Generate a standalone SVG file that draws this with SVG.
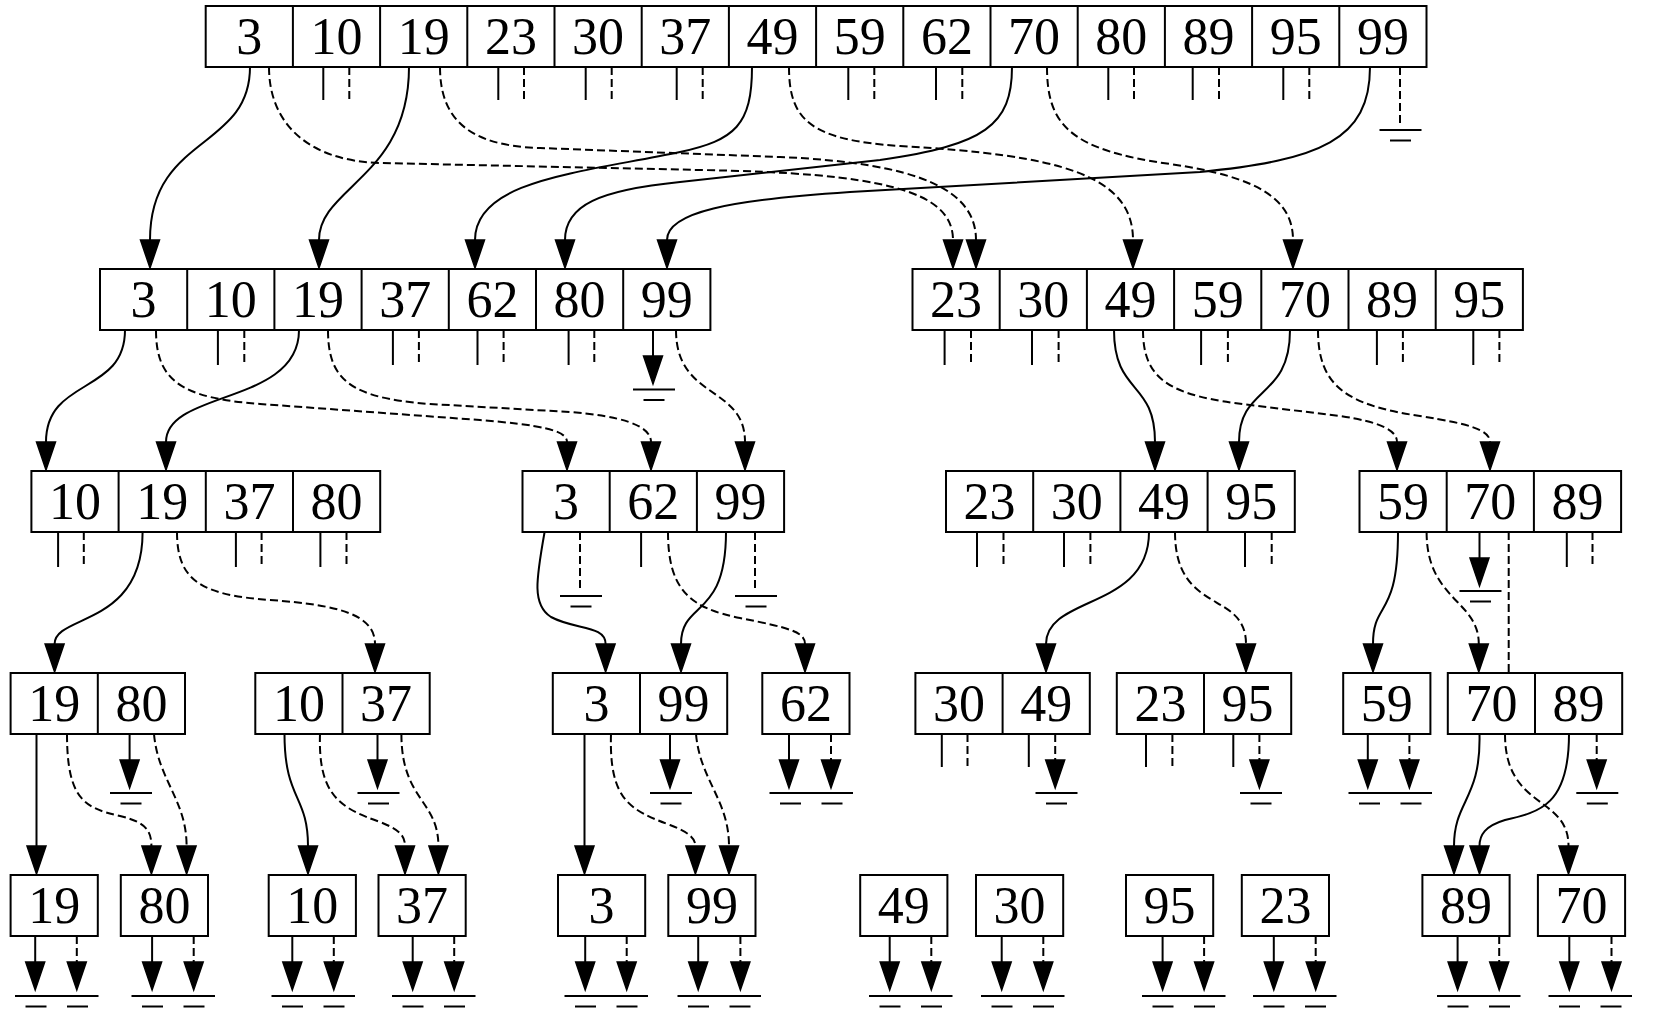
<svg xmlns="http://www.w3.org/2000/svg" width="1654" height="1020" viewBox="0 0 1654 1020">
<style>
.box{fill:#fff;stroke:#000;stroke-width:2}
.dv{stroke:#000;stroke-width:2}
.t{font-family:"Liberation Serif","Times New Roman",serif;font-size:52px;text-anchor:middle;fill:#000}
.s{fill:none;stroke:#000;stroke-width:2}
.d{fill:none;stroke:#000;stroke-width:2;stroke-dasharray:8,4}
.a{marker-end:url(#ah)}
.gl{stroke:#000;stroke-width:2}
</style>
<defs>
<marker id="ah" markerUnits="userSpaceOnUse" markerWidth="32" markerHeight="24" viewBox="0 -12 32 24" refX="0" refY="0" orient="auto" overflow="visible">
<path d="M0,-9.5 L28,0 L0,9.5 z" fill="#000" stroke="#000" stroke-width="1.5"/>
</marker>
<g id="gnd"><line class="gl" x1="-21" y1="0" x2="21" y2="0"/><line class="gl" x1="-10.5" y1="10.5" x2="10.5" y2="10.5"/></g>
</defs>
<rect width="1654" height="1020" fill="#fff"/>

<g id="connectors">
<!-- row 1 stubs -->
<g id="stubs1">
<path class="s" d="M323.3,67V100M498.3,67V100M585.7,67V100M676.7,67V100M848.3,67V100M936,67V100M1108.3,67V100M1192.7,67V100M1283.3,67V100"/>
<path class="d" d="M349.3,67V100M524,67V100M611.7,67V100M702.7,67V100M874.3,67V100M962.3,67V100M1134,67V100M1219,67V100M1309.3,67V100"/>
</g>
<!-- row 1 edges -->
<path class="s a" d="M250,67 C250,150 150,135 150,240"/>
<path class="d a" d="M269,67 C269,125 310,161 380,163 L700,170 C880,173 953,190 953,240"/>
<path class="s a" d="M409,67 C409,177 319,187 319,240"/>
<path class="d a" d="M440,67 C440,120 470,146 540,148 L780,157 C920,163 976,190 976,240"/>
<path class="s a" d="M752,67 C752,125 735,140 680,152 C580,173 475,180 475,240"/>
<path class="d a" d="M789,67 C789,120 810,140 900,146 C1060,155 1133,175 1133,240"/>
<path class="s a" d="M1012,67 C1012,125 985,145 880,160 L680,182 C600,190 565,205 565,240"/>
<path class="d a" d="M1047,67 C1047,125 1070,150 1170,164 C1260,177 1293,200 1293,240"/>
<path class="s a" d="M1370,67 C1370,140 1320,160 1200,172 L850,192 C730,200 667,212 667,240"/>
<path class="d" d="M1400,67 L1400,126"/>

<!-- row 2 stubs -->
<g id="stubs2">
<path class="s" d="M217.9,330V365M392.9,330V365M477.5,330V365M568.6,330V365M944.6,330V365M1032,330V365M1201.1,330V365M1376.9,330V365M1473.3,330V365"/>
<path class="d" d="M244.3,330V365M418.9,330V365M503.6,330V365M594.3,330V365M971,330V365M1058.6,330V365M1227.9,330V365M1402.9,330V365M1499.4,330V365"/>
</g>
<!-- row 2 edges -->
<path class="s a" d="M125,330 C125,395 46,377 46,442"/>
<path class="d a" d="M156,330 C156,380 180,398 260,404 L480,420 C540,425 567,430 567,442"/>
<path class="s a" d="M299,330 C299,405 166,390 166,442"/>
<path class="d a" d="M328,330 C328,380 350,398 430,404 L570,412 C620,416 651,425 651,442"/>
<path class="s a" d="M653,330 L653,356"/>
<path class="d a" d="M676,330 C676,400 745,385 745,442"/>
<path class="s a" d="M1114,330 C1114,395 1155,380 1155,442"/>
<path class="d a" d="M1143,330 C1143,380 1170,396 1250,405 L1340,416 C1380,422 1397,430 1397,442"/>
<path class="s a" d="M1290,330 C1290,400 1239,385 1239,442"/>
<path class="d a" d="M1318,330 C1318,385 1345,405 1420,416 C1470,424 1490,430 1490,442"/>

<!-- row 3 stubs -->
<g id="stubs3">
<path class="s" d="M58.1,532V567M235.9,532V567M320.4,532V567M641.1,532V567M977,532V567M1064,532V567M1245,532V567M1566.8,532V567"/>
<path class="d" d="M83.8,532V567M261.6,532V567M346.5,532V567M1003.5,532V567M1090.4,532V567M1271.7,532V567M1592.5,532V567"/>
</g>
<!-- row 3 edges -->
<path class="s a" d="M142.6,532 C142.6,627 54.6,614 54.6,644"/>
<path class="d a" d="M177,532 C177,580 200,595 270,600 C340,605 375,615 375,644"/>
<path class="s a" d="M544.6,532 C536,580 532,605 551,617 C575,630 605.6,625 605.6,644"/>
<path class="d" d="M580,532 L580,592"/>
<path class="d a" d="M668,532 C668,590 690,608 740,618 C790,628 805,632 805,644"/>
<path class="s a" d="M726,532 C726,620 681,600 681,644"/>
<path class="d" d="M755,532 L755,592"/>
<path class="s a" d="M1149,532 C1149,610 1046,595 1046,644"/>
<path class="d a" d="M1175,532 C1175,615 1246,590 1246,644"/>
<path class="s a" d="M1398,532 C1398,620 1373,600 1373,644"/>
<path class="d a" d="M1426.6,532 C1426.6,600 1478.8,600 1478.8,644"/>
<path class="s a" d="M1479.5,532 L1479.5,558"/>
<path class="d" d="M1508.7,532 L1508.7,673"/>

<!-- row 4 stubs -->
<g id="stubs4">
<path class="s" d="M941.8,734V767M1028.8,734V767M1146,734V767M1233.3,734V767"/>
<path class="d" d="M967.5,734V767M1172.4,734V767"/>
</g>
<!-- row 4 edges -->
<path class="s a" d="M36.5,734 L36.5,846"/>
<path class="d a" d="M67,734 C67,800 85,808 120,816 C145,822 151.4,830 151.4,846"/>
<path class="s a" d="M129.6,734 L129.6,760"/>
<path class="d a" d="M154,734 C158,780 186.6,800 186.6,846"/>
<path class="s a" d="M284.5,734 C284.5,800 308,795 308,846"/>
<path class="d a" d="M320,734 C318,795 340,808 380,822 C398,829 405,835 405,846"/>
<path class="s a" d="M377.5,734 L377.5,760"/>
<path class="d a" d="M401.4,734 C401.4,800 438.4,800 438.4,846"/>
<path class="s a" d="M584.5,734 L584.5,846"/>
<path class="d a" d="M611,734 C609,800 630,810 670,825 C688,832 695.4,838 695.4,846"/>
<path class="s a" d="M670,734 L670,760"/>
<path class="d a" d="M696,734 C700,780 729,800 729,846"/>
<path class="s a" d="M789,734 L789,760"/>
<path class="d a" d="M831,734 L831,760"/>
<path class="d a" d="M1055.2,734 L1055.2,760"/>
<path class="d a" d="M1259.4,734 L1259.4,760"/>
<path class="s a" d="M1367.8,734 L1367.8,760"/>
<path class="d a" d="M1409.4,734 L1409.4,760"/>
<path class="s a" d="M1479.5,734 C1481,800 1454,800 1454,846"/>
<path class="d a" d="M1505,734 C1505,810 1568.5,795 1568.5,846"/>
<path class="s a" d="M1569,734 C1569,805 1540,812 1505,820 C1485,826 1479.5,835 1479.5,846"/>
<path class="d a" d="M1596.7,734 L1596.7,760"/>

<!-- row 5 edges -->
<path class="s a" d="M35.2,936V962"/><path class="s a" d="M152.1,936V962"/><path class="s a" d="M292.3,936V962"/><path class="s a" d="M412.7,936V962"/>
<path class="s a" d="M585.2,936V962"/><path class="s a" d="M698.2,936V962"/><path class="s a" d="M889.7,936V962"/><path class="s a" d="M1001.7,936V962"/>
<path class="s a" d="M1162.6,936V962"/><path class="s a" d="M1273.8,936V962"/><path class="s a" d="M1457.6,936V962"/><path class="s a" d="M1569.3,936V962"/>
<path class="d a" d="M76.8,936V962"/><path class="d a" d="M193.7,936V962"/><path class="d a" d="M333.8,936V962"/><path class="d a" d="M454.2,936V962"/>
<path class="d a" d="M626.7,936V962"/><path class="d a" d="M740.4,936V962"/><path class="d a" d="M931.3,936V962"/><path class="d a" d="M1043.3,936V962"/>
<path class="d a" d="M1204.1,936V962"/><path class="d a" d="M1315.7,936V962"/><path class="d a" d="M1499.2,936V962"/><path class="d a" d="M1611.5,936V962"/>
</g>

<g id="grounds">
<use id="g_r1" href="#gnd" x="1400.5" y="130"/>
<use id="g_r2" href="#gnd" x="654" y="389.5"/>
<use id="g_r3a" href="#gnd" x="581" y="596"/>
<use id="g_r3b" href="#gnd" x="756" y="596"/>
<use id="g_r3c" href="#gnd" x="1480.5" y="591"/>
<use href="#gnd" x="131" y="793"/>
<use href="#gnd" x="378.5" y="793"/>
<use href="#gnd" x="671" y="793"/>
<use href="#gnd" x="790.5" y="793"/>
<use href="#gnd" x="832" y="793"/>
<use href="#gnd" x="1056.5" y="793"/>
<use href="#gnd" x="1261" y="793"/>
<use href="#gnd" x="1369.5" y="793"/>
<use href="#gnd" x="1411" y="793"/>
<use href="#gnd" x="1597.3" y="793"/>
<use href="#gnd" x="36" y="996"/><use href="#gnd" x="77.5" y="996"/>
<use href="#gnd" x="152.5" y="996"/><use href="#gnd" x="194" y="996"/>
<use href="#gnd" x="292.5" y="996"/><use href="#gnd" x="334" y="996"/>
<use href="#gnd" x="413" y="996"/><use href="#gnd" x="454.5" y="996"/>
<use href="#gnd" x="585.5" y="996"/><use href="#gnd" x="627" y="996"/>
<use href="#gnd" x="698.5" y="996"/><use href="#gnd" x="740" y="996"/>
<use href="#gnd" x="890" y="996"/><use href="#gnd" x="931.5" y="996"/>
<use href="#gnd" x="1002" y="996"/><use href="#gnd" x="1043.5" y="996"/>
<use href="#gnd" x="1163" y="996"/><use href="#gnd" x="1204.5" y="996"/>
<use href="#gnd" x="1274" y="996"/><use href="#gnd" x="1315.5" y="996"/>
<use href="#gnd" x="1458" y="996"/><use href="#gnd" x="1499.5" y="996"/>
<use href="#gnd" x="1569.5" y="996"/><use href="#gnd" x="1611" y="996"/>
</g>

<!-- row 1 -->
<g id="n_root">
<rect class="box" x="205.7" y="6" width="1220.8" height="61"/>
<path class="dv" d="M292.9,6V67M380.1,6V67M467.3,6V67M554.5,6V67M641.7,6V67M728.9,6V67M816.1,6V67M903.3,6V67M990.5,6V67M1077.7,6V67M1164.9,6V67M1252.1,6V67M1339.3,6V67"/>
<text class="t" y="53.5"><tspan x="249.3">3</tspan><tspan x="336.5">10</tspan><tspan x="423.7">19</tspan><tspan x="510.9">23</tspan><tspan x="598.1">30</tspan><tspan x="685.3">37</tspan><tspan x="772.5">49</tspan><tspan x="859.7">59</tspan><tspan x="946.9">62</tspan><tspan x="1034.1">70</tspan><tspan x="1121.3">80</tspan><tspan x="1208.5">89</tspan><tspan x="1295.7">95</tspan><tspan x="1382.9">99</tspan></text>
</g>
<!-- row 2 -->
<g id="n_L">
<rect class="box" x="100" y="269" width="610.4" height="61"/>
<path class="dv" d="M187.2,269V330M274.4,269V330M361.6,269V330M448.8,269V330M536,269V330M623.2,269V330"/>
<text class="t" y="316.5"><tspan x="143.6">3</tspan><tspan x="230.8">10</tspan><tspan x="318">19</tspan><tspan x="405.2">37</tspan><tspan x="492.4">62</tspan><tspan x="579.6">80</tspan><tspan x="666.8">99</tspan></text>
</g>
<g id="n_R">
<rect class="box" x="912.5" y="269" width="610.4" height="61"/>
<path class="dv" d="M999.7,269V330M1086.9,269V330M1174.1,269V330M1261.3,269V330M1348.5,269V330M1435.7,269V330"/>
<text class="t" y="316.5"><tspan x="956.1">23</tspan><tspan x="1043.3">30</tspan><tspan x="1130.5">49</tspan><tspan x="1217.7">59</tspan><tspan x="1304.9">70</tspan><tspan x="1392.1">89</tspan><tspan x="1479.3">95</tspan></text>
</g>
<!-- row 3 -->
<g id="n_LL">
<rect class="box" x="31.4" y="471" width="348.8" height="61"/>
<path class="dv" d="M118.6,471V532M205.8,471V532M293,471V532"/>
<text class="t" y="518.5"><tspan x="75">10</tspan><tspan x="162.2">19</tspan><tspan x="249.4">37</tspan><tspan x="336.6">80</tspan></text>
</g>
<g id="n_LR">
<rect class="box" x="522.5" y="471" width="261.6" height="61"/>
<path class="dv" d="M609.7,471V532M696.9,471V532"/>
<text class="t" y="518.5"><tspan x="566.1">3</tspan><tspan x="653.3">62</tspan><tspan x="740.5">99</tspan></text>
</g>
<g id="n_RL">
<rect class="box" x="946" y="471" width="348.8" height="61"/>
<path class="dv" d="M1033.2,471V532M1120.4,471V532M1207.6,471V532"/>
<text class="t" y="518.5"><tspan x="989.6">23</tspan><tspan x="1076.8">30</tspan><tspan x="1164">49</tspan><tspan x="1251.2">95</tspan></text>
</g>
<g id="n_RR">
<rect class="box" x="1359.5" y="471" width="261.6" height="61"/>
<path class="dv" d="M1446.7,471V532M1533.9,471V532"/>
<text class="t" y="518.5"><tspan x="1403.1">59</tspan><tspan x="1490.3">70</tspan><tspan x="1577.5">89</tspan></text>
</g>
<!-- row 4 -->
<g id="n_19_80">
<rect class="box" x="10.6" y="673" width="174.4" height="61"/>
<path class="dv" d="M97.8,673V734"/>
<text class="t" y="720.5"><tspan x="54.2">19</tspan><tspan x="141.4">80</tspan></text>
</g>
<g id="n_10_37">
<rect class="box" x="255.3" y="673" width="174.4" height="61"/>
<path class="dv" d="M342.5,673V734"/>
<text class="t" y="720.5"><tspan x="298.9">10</tspan><tspan x="386.1">37</tspan></text>
</g>
<g id="n_3_99">
<rect class="box" x="552.8" y="673" width="174.4" height="61"/>
<path class="dv" d="M640,673V734"/>
<text class="t" y="720.5"><tspan x="596.4">3</tspan><tspan x="683.6">99</tspan></text>
</g>
<g id="n_62">
<rect class="box" x="762.3" y="673" width="87.2" height="61"/>
<text class="t" x="805.9" y="720.5">62</text>
</g>
<g id="n_30_49">
<rect class="box" x="915.4" y="673" width="174.4" height="61"/>
<path class="dv" d="M1002.6,673V734"/>
<text class="t" y="720.5"><tspan x="959">30</tspan><tspan x="1046.2">49</tspan></text>
</g>
<g id="n_23_95">
<rect class="box" x="1116.8" y="673" width="174.4" height="61"/>
<path class="dv" d="M1204,673V734"/>
<text class="t" y="720.5"><tspan x="1160.4">23</tspan><tspan x="1247.6">95</tspan></text>
</g>
<g id="n_59">
<rect class="box" x="1343.2" y="673" width="87.2" height="61"/>
<text class="t" x="1386.8" y="720.5">59</text>
</g>
<g id="n_70_89">
<rect class="box" x="1447.8" y="673" width="174.4" height="61"/>
<path class="dv" d="M1535,673V734"/>
<text class="t" y="720.5"><tspan x="1491.4">70</tspan><tspan x="1578.6">89</tspan></text>
</g>
<!-- row 5 -->
<g id="leaf_19"><rect class="box" x="10.6" y="875" width="87.2" height="61"/><text class="t" x="54.2" y="922.5">19</text></g>
<g id="leaf_80"><rect class="box" x="120.8" y="875" width="87.2" height="61"/><text class="t" x="164.4" y="922.5">80</text></g>
<g id="leaf_10"><rect class="box" x="268.7" y="875" width="87.2" height="61"/><text class="t" x="312.3" y="922.5">10</text></g>
<g id="leaf_37"><rect class="box" x="378.5" y="875" width="87.2" height="61"/><text class="t" x="422.1" y="922.5">37</text></g>
<g id="leaf_3"><rect class="box" x="558" y="875" width="87.2" height="61"/><text class="t" x="601.6" y="922.5">3</text></g>
<g id="leaf_99"><rect class="box" x="668.3" y="875" width="87.2" height="61"/><text class="t" x="711.9" y="922.5">99</text></g>
<g id="leaf_49"><rect class="box" x="860.2" y="875" width="87.2" height="61"/><text class="t" x="903.8" y="922.5">49</text></g>
<g id="leaf_30"><rect class="box" x="976" y="875" width="87.2" height="61"/><text class="t" x="1019.6" y="922.5">30</text></g>
<g id="leaf_95"><rect class="box" x="1126" y="875" width="87.2" height="61"/><text class="t" x="1169.6" y="922.5">95</text></g>
<g id="leaf_23"><rect class="box" x="1241.8" y="875" width="87.2" height="61"/><text class="t" x="1285.4" y="922.5">23</text></g>
<g id="leaf_89"><rect class="box" x="1422.4" y="875" width="87.2" height="61"/><text class="t" x="1466" y="922.5">89</text></g>
<g id="leaf_70"><rect class="box" x="1537.9" y="875" width="87.2" height="61"/><text class="t" x="1581.5" y="922.5">70</text></g>
</svg>
